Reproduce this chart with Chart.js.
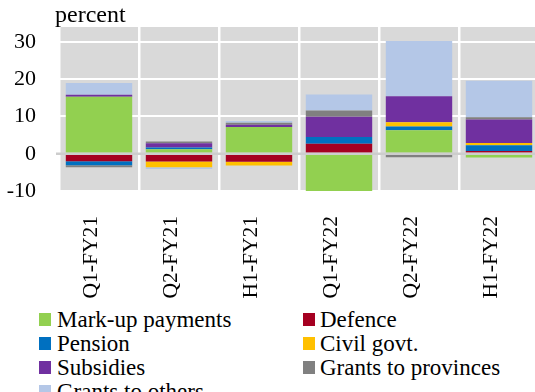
<!DOCTYPE html>
<html>
<head>
<meta charset="utf-8">
<script src="https://cdn.jsdelivr.net/npm/chart.js@4.4.1/dist/chart.umd.min.js"></script>
<style>
  html, body { margin: 0; padding: 0; background: #fff; overflow: hidden; width: 535px; height: 392px; }
  #wrap { position: absolute; left: 0; top: 0; width: 540px; height: 300px; }
  #legend { position: absolute; left: 0; top: 0; font-family: 'Liberation Serif', serif; font-size: 23px; color: #000; }
  .item { position: absolute; white-space: nowrap; line-height: 24px; }
  .box { position: absolute; width: 12px; height: 13px; }
</style>
</head>
<body>
<div id="wrap"><canvas id="c" width="540" height="300"></canvas></div>
<div id="legend"></div>
<script>
// Growth in expenditure components, percent
const categories = ['Q1-FY21', 'Q2-FY21', 'H1-FY21', 'Q1-FY22', 'Q2-FY22', 'H1-FY22'];
const markup       = [15.3,  1.2,  7.2, -15.0,  6.3, -1.0];
const defence      = [-2.0, -2.1, -2.15,  2.7, -0.15, 0.7];
const pension      = [-1.1,  0.5,  0.0,   1.8,  1.0,  1.6];
const civilGovt    = [ 0.0, -1.5, -1.0,   0.0,  1.15, 0.6];
const subsidies    = [ 0.5,  1.1,  0.6,   5.4,  7.0,  6.3];
const grantsProv   = [-0.5,  0.45, 0.5,   1.7, -0.8,  0.6];
const grantsOthers = [ 3.2, -0.5,  0.5,   4.3, 14.8,  9.8];
const yTicks = [-10, 0, 10, 20, 30];

const seriesNames  = ['Mark-up payments', 'Defence', 'Pension', 'Civil govt.', 'Subsidies', 'Grants to provinces', 'Grants to others'];
const seriesData   = [markup, defence, pension, civilGovt, subsidies, grantsProv, grantsOthers];
const seriesColors = ['#92d050', '#a50021', '#0070c0', '#ffc000', '#7030a0', '#808080', '#b4c7e7'];

const FONT = "'Liberation Serif', serif";

const plotBackground = {
  id: 'plotBackground',
  beforeDraw(chart) {
    const { ctx, chartArea: a } = chart;
    ctx.save();
    ctx.fillStyle = '#d9d9d9';
    ctx.fillRect(a.left, a.top, a.right - a.left, a.bottom - a.top);
    ctx.restore();
  }
};

const zeroLine = {
  id: 'zeroLine',
  afterDatasetsDraw(chart) {
    const { ctx, chartArea: a, scales } = chart;
    const y0 = scales.y.getPixelForValue(0);
    ctx.save();
    ctx.strokeStyle = '#cdcdcd';
    ctx.lineWidth = 2.5;
    ctx.beginPath();
    ctx.moveTo(a.left - 3, y0);
    ctx.lineTo(a.right, y0);
    ctx.stroke();
    ctx.restore();
  }
};

const unitLabel = {
  id: 'unitLabel',
  afterDraw(chart) {
    const ctx = chart.ctx;
    ctx.save();
    ctx.font = '24px ' + FONT;
    ctx.fillStyle = '#000';
    ctx.textAlign = 'left';
    ctx.textBaseline = 'alphabetic';
    ctx.fillText('percent', 55, 21.5);
    ctx.restore();
  }
};

const chart = new Chart(document.getElementById('c'), {
  type: 'bar',
  data: {
    labels: categories,
    datasets: seriesNames.map((name, i) => ({
      label: name,
      data: seriesData[i],
      backgroundColor: seriesColors[i],
      borderWidth: 0,
      barPercentage: 0.83,
      categoryPercentage: 1.0
    }))
  },
  options: {
    responsive: false,
    animation: false,
    devicePixelRatio: 1,
    layout: { padding: { top: 27, right: 1, left: 0, bottom: 0 } },
    plugins: { legend: { display: false }, tooltip: { enabled: false } },
    scales: {
      x: {
        stacked: true,
        border: { display: false },
        grid: { color: '#ffffff', lineWidth: 2.5, drawTicks: false, offset: true },
        ticks: {
          color: '#000',
          font: { family: FONT, size: 21.5 },
          minRotation: 90,
          maxRotation: 90,
          padding: 25,
          labelOffset: -8
        },
        afterFit(scale) {
          scale.height = 109;
          scale.paddingLeft = 0;
          scale.paddingRight = 0;
        }
      },
      y: {
        stacked: true,
        min: -10,
        max: 34,
        border: { display: false },
        grid: { color: '#ffffff', lineWidth: 2, drawTicks: false },
        ticks: {
          color: '#000',
          font: { family: FONT, size: 22 },
          padding: 23
        },
        afterBuildTicks(scale) { scale.ticks = yTicks.map(v => ({ value: v })); },
        afterFit(scale) {
          scale.width = 59;
          scale.paddingTop = 0;
          scale.paddingBottom = 0;
        }
      }
    }
  },
  plugins: [plotBackground, zeroLine, unitLabel]
});

// Two-column legend below the chart
const legend = document.getElementById('legend');
const boxLeft = [39, 303], textLeft = [57, 320];
seriesNames.forEach((name, i) => {
  const col = i % 2, row = Math.floor(i / 2);
  const baseline = 328 + 24 * row;
  const box = document.createElement('div');
  box.className = 'box';
  box.style.left = boxLeft[col] + 'px';
  box.style.top = (baseline - 15) + 'px';
  box.style.background = seriesColors[i];
  legend.appendChild(box);
  const txt = document.createElement('div');
  txt.className = 'item';
  txt.style.left = textLeft[col] + 'px';
  txt.style.top = (baseline - 19.7) + 'px';
  txt.textContent = name;
  legend.appendChild(txt);
});
</script>
</body>
</html>
